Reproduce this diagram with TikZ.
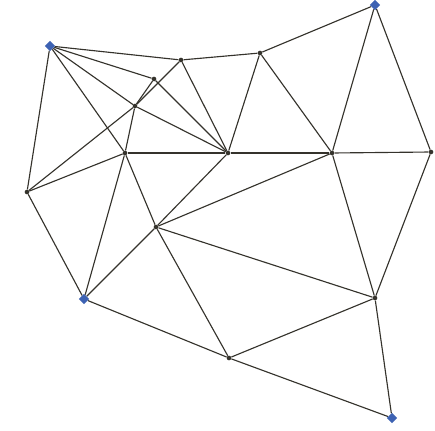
\documentclass[tikz,border=0pt]{standalone}
\usepackage{tikz}
\usetikzlibrary{shapes.geometric}
\definecolor{netline}{HTML}{35332C}
\definecolor{ctrlblue}{HTML}{3D62B3}

\begin{document}
\begin{tikzpicture}[x=0.75pt,y=-0.75pt,
  station/.style={circle, fill=netline, inner sep=0pt, minimum size=3.5pt},
  control/.style={diamond, fill=ctrlblue, inner sep=0pt, minimum size=8pt},
  leg/.style={netline, line width=0.85pt}]
  \useasboundingbox (0,0) rectangle (435,431);

  % Control points (blue)
  \node[control] (A) at (50,46) {};
  \node[control] (H) at (375,5) {};
  \node[control] (M) at (84,299) {};
  \node[control] (P) at (392,418) {};

  % Network stations
  \node[station] (B) at (181,60) {};
  \node[station] (C) at (154,79) {};
  \node[station] (D) at (135,106) {};
  \node[station] (E) at (125,153) {};
  \node[station] (F) at (27,192) {};
  \node[station] (G) at (260,53) {};
  \node[station] (I) at (228,153) {};
  \node[station] (J) at (332,153) {};
  \node[station] (K) at (431,152) {};
  \node[station] (L) at (156,227) {};
  \node[station] (N) at (375,298) {};
  \node[station] (O) at (229,358) {};

  % Observed lines
  \foreach \a/\b in {A/B, A/C, A/D, A/E, A/F,
                     B/G, B/I, B/D, C/D, C/I,
                     D/E, D/I, D/F, E/F, E/I, E/M, E/L, F/M,
                     G/H, G/I, G/J, H/J, H/K,
                     I/J, I/L, J/K, J/L, J/N, K/N,
                     L/M, L/N, L/O, M/O, N/O, N/P, O/P}
    \draw[leg] (\a) -- (\b);
\end{tikzpicture}
\end{document}
